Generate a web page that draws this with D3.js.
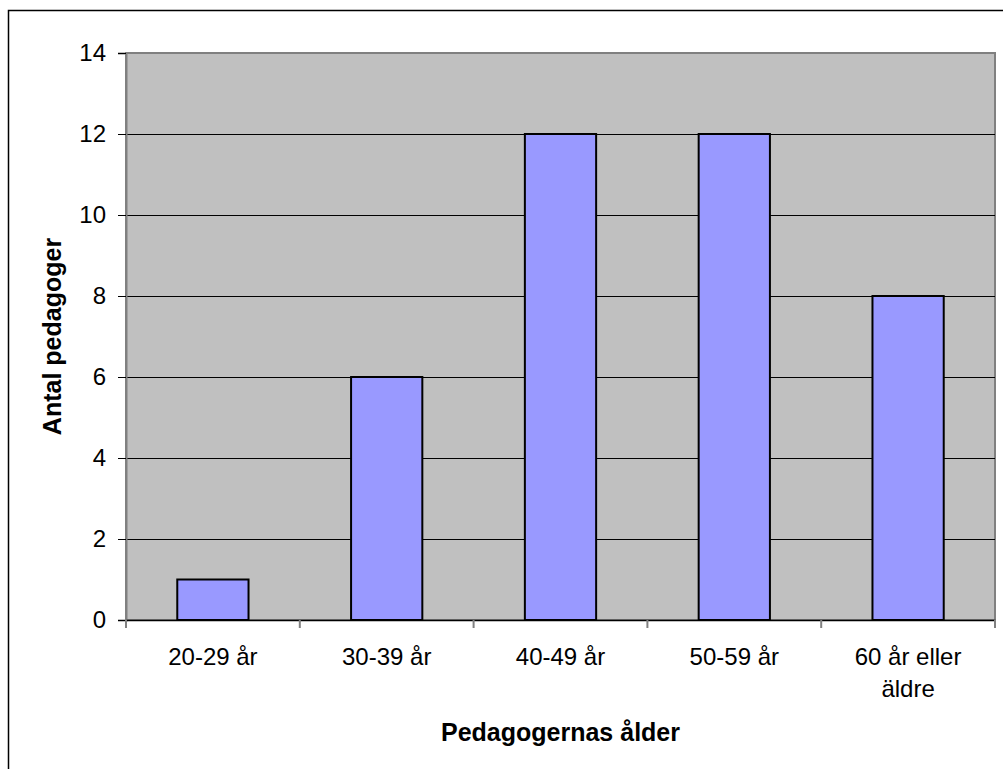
<!DOCTYPE html>
<html>
<head>
<meta charset="utf-8">
<script src="https://cdn.jsdelivr.net/npm/d3@7"></script>
<style>
  html, body { margin: 0; background: #fff; overflow: hidden; }
  svg { display: block; font-family: Arial, 'Liberation Sans', sans-serif; }
</style>
</head>
<body>
<svg width="1003" height="769"></svg>
<script>
const categories = ['20-29 år', '30-39 år', '40-49 år', '50-59 år', '60 år eller äldre'];
const counts = [1, 6, 12, 12, 8];
const yTicks = [0, 2, 4, 6, 8, 10, 12, 14];

const svg = d3.select('svg');
const width  = +svg.attr('width');
const height = +svg.attr('height');

// outer chart frame: only the left and top edges fall inside the picture
svg.append('path')
  .attr('d', `M8.5,${height} V10.5 H${width}`)
  .attr('fill', 'none')
  .attr('stroke', '#000')
  .attr('stroke-width', 1.5);

const margin = { top: 53, left: 126, right: 8, bottom: 149 };
const innerWidth = width - margin.left - margin.right;
const innerHeight = height - margin.top - margin.bottom;

const g = svg.append('g')
  .attr('transform', `translate(${margin.left},${margin.top})`);

const xScale = d3.scaleBand()
  .domain(categories)
  .range([0, innerWidth]);

const yScale = d3.scaleLinear()
  .domain([0, 14])
  .range([innerHeight, 0]);

// plot area
g.append('rect')
  .attr('width', innerWidth)
  .attr('height', innerHeight)
  .attr('fill', '#c0c0c0')
  .attr('stroke', '#808080')
  .attr('stroke-width', 2);

// gridlines
g.selectAll('.grid')
  .data(yTicks.filter(t => t > 0 && t < 14))
  .enter().append('line')
    .attr('x1', 0).attr('x2', innerWidth)
    .attr('y1', d => Math.round(yScale(d)) + 0.5)
    .attr('y2', d => Math.round(yScale(d)) + 0.5)
    .attr('stroke', '#000');

// bars
const barW = xScale.bandwidth() * 0.41;
g.selectAll('.bar')
  .data(counts).enter()
  .append('rect')
    .attr('class', 'bar')
    .attr('x', (d, i) => xScale(categories[i]) + (xScale.bandwidth() - barW) / 2)
    .attr('y', d => yScale(d))
    .attr('width', barW)
    .attr('height', d => innerHeight - yScale(d))
    .attr('fill', '#9999ff')
    .attr('stroke', '#000')
    .attr('stroke-width', 2);

// y axis
const yAxisG = g.append('g')
  .call(d3.axisLeft(yScale).tickValues(yTicks).tickSize(8).tickPadding(12));
yAxisG.attr('font-size', null).attr('font-family', null);
yAxisG.select('.domain').attr('stroke', '#808080').attr('stroke-width', 2);
yAxisG.selectAll('.tick line').attr('stroke', '#000');
yAxisG.selectAll('.tick text')
  .attr('font-size', 24)
  .attr('fill', '#000');

// x axis
const xAxisG = g.append('g')
  .attr('transform', `translate(0,${innerHeight})`)
  .call(d3.axisBottom(xScale).tickSize(0).tickFormat(''));
xAxisG.select('.domain').attr('stroke', '#000').attr('stroke-width', 1.5);

// category boundary ticks
g.selectAll('.xtick')
  .data(d3.range(categories.length + 1))
  .enter().append('line')
    .attr('x1', i => i * xScale.step())
    .attr('x2', i => i * xScale.step())
    .attr('y1', innerHeight)
    .attr('y2', innerHeight + 8)
    .attr('stroke', '#808080')
    .attr('stroke-width', 2);

// category labels (wrapped as in the original)
const labelLines = ['20-29 år', '30-39 år', '40-49 år', '50-59 år', '60 år eller|äldre'];
categories.forEach((c, i) => {
  const cx = xScale(c) + xScale.bandwidth() / 2;
  const t = g.append('text')
    .attr('text-anchor', 'middle')
    .attr('font-size', 24)
    .attr('x', cx)
    .attr('y', innerHeight + 45);
  labelLines[i].split('|').forEach((line, k) => {
    t.append('tspan')
      .attr('x', cx)
      .attr('dy', k === 0 ? 0 : 32)
      .text(line);
  });
});

// axis titles
g.append('text')
  .attr('text-anchor', 'middle')
  .attr('font-size', 25)
  .attr('font-weight', 'bold')
  .attr('x', innerWidth / 2)
  .attr('y', innerHeight + 121)
  .text('Pedagogernas ålder');

g.append('text')
  .attr('text-anchor', 'middle')
  .attr('font-size', 25)
  .attr('font-weight', 'bold')
  .attr('transform', `translate(${-65},${innerHeight / 2}) rotate(-90)`)
  .text('Antal pedagoger');
</script>
</body>
</html>
